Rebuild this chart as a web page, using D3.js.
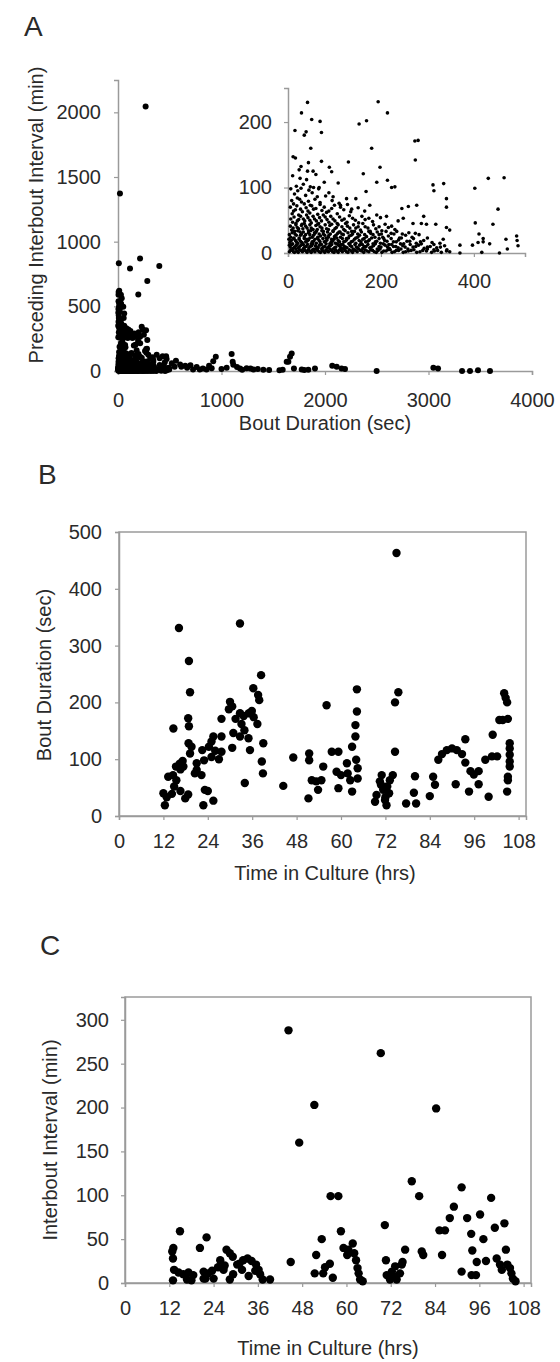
<!DOCTYPE html>
<html>
<head>
<meta charset="utf-8">
<script src="https://cdn.jsdelivr.net/npm/d3@7"></script>
<style>
  html, body { margin: 0; padding: 0; background: #fff; }
  svg text { font-family: 'Liberation Sans', Arial, sans-serif; fill: #2a2a2a; }
</style>
</head>
<body>
<svg id="chart" width="560" height="1362"></svg>
<script>
// ---------------- DATA ----------------
// Panel A: bout duration (sec) vs preceding interbout interval (min)
// points inside the inset window (duration <= 510 s, interval <= 250 min)
const insetSparse = [
  [42,230],[29,214],[51,204],[69,201],[15,187],[39,185],[35,180],[72,184],[194,231],[214,214],
  [169,202],[153,197],[49,160],[180,160],[273,171],[280,172],[11,147],[274,142],[130,139],[44,138],
  [24,127],[42,125],[54,125],[89,131],[94,124],[162,121],[198,131],[26,114],[108,107],[191,108],
  [214,111],[223,100],[230,101],[168,94],[48,101],[55,100],[67,100],[312,104],[314,95],[335,106],
  [402,99],[431,114],[465,115],[341,83],[341,70],[452,67],[441,44],[403,46],[97,86],[126,83],
  [146,83],[113,73],[137,67],[165,64],[176,73],[191,58],[212,56],[245,68],[259,71],[277,73],
  [237,49],[248,53],[292,56],[269,45],[287,45],[298,44],[318,44],[341,39],[348,35],[411,29],
  [420,22],[409,16],[420,17],[434,14],[469,21],[492,26],[493,19],[495,11],[472,6],[455,0],
  [417,1],[397,12],[370,12],[370,0],[334,21],[327,15],[314,5],[298,3],[341,3]
];
const insetDense = [
  [3,2],[9,4],[14,1],[19,3],[25,5],[31,2],[36,4],[41,1],[47,3],[53,5],[58,2],[64,4],[70,1],[76,3],[82,5],
  [87,2],[93,4],[99,1],[105,3],[111,5],[117,2],[123,4],[129,1],[136,3],[142,5],[149,2],[156,4],[163,1],
  [170,3],[178,5],[186,2],[194,4],[202,1],[211,3],[220,5],[229,2],[238,4],[248,1],[259,3],[271,5],[284,2],
  [309,1],[322,4],[348,2],
  [5,9],[11,7],[17,11],[22,8],[28,12],[34,7],[39,10],[45,8],[51,11],[56,6],[62,9],[68,12],[73,7],[79,10],
  [85,8],[91,11],[97,6],[103,9],[109,12],[115,7],[121,10],[127,8],[134,11],[140,6],[147,9],[154,12],[161,7],
  [168,10],[176,8],[184,11],[192,6],[200,9],[209,12],[218,7],[227,10],[237,8],[247,11],[258,6],[269,9],
  [281,12],[293,7],[306,10],[320,8],[337,11],
  [4,16],[10,14],[16,19],[21,15],[27,18],[33,13],[38,17],[44,20],[50,14],[55,18],[61,15],[67,19],[72,13],
  [78,17],[84,20],[90,14],[96,18],[102,15],[108,19],[114,13],[120,17],[126,20],[133,14],[139,18],[146,15],
  [153,19],[160,13],[167,17],[175,20],[183,14],[191,18],[199,15],[208,19],[217,13],[227,17],[238,20],
  [249,14],[262,18],[276,15],[292,19],[310,16],
  [6,24],[12,22],[18,27],[24,23],[29,29],[35,25],[41,21],[47,28],[52,24],[58,30],[64,22],[70,26],[76,29],
  [82,23],[88,27],[94,21],[100,25],[107,30],[113,24],[119,28],[126,22],[132,26],[139,29],[146,23],[154,27],
  [161,21],[169,25],[178,30],[187,24],[196,28],[206,22],[216,26],[228,29],[240,23],[253,27],[267,24],[282,28],
  [8,35],[14,33],[20,39],[26,32],[32,37],[38,41],[44,34],[50,38],[57,31],[63,36],[69,40],[76,33],[83,37],
  [90,42],[97,34],[104,39],[112,32],[120,36],[128,41],[137,33],[146,38],[156,35],[166,40],[177,33],[189,37],
  [202,34],[216,39],[230,36],
  [10,47],[17,45],[23,51],[30,44],[36,49],[43,54],[50,46],[57,52],[64,44],[72,49],[80,55],[88,47],[97,52],
  [106,45],[116,50],[127,47],[139,53],[152,46],[166,51],[182,48],[199,54],
  [9,60],[16,66],[23,58],[31,63],[39,69],[47,61],[55,67],[64,59],[73,65],[83,62],[94,68],[106,60],[120,66],
  [135,63],[151,69],
  [12,75],[20,84],[29,78],[38,88],[48,73],[58,82],[69,77],[81,87],[95,80],[110,76],[14,90],
  [21,95],[33,105],[52,92],[66,98],[78,108],[18,102],
  [10,118],[28,132],[40,112],[60,120],[72,140],[16,145]
];
const insetDense2 = [
  [6,5],[12,2],[17,6],[22,1],[28,4],[33,6],[39,3],[44,5],[50,1],[55,4],[61,6],[67,2],[73,5],[79,1],[85,3],
  [90,6],[96,2],[102,5],[108,1],[114,4],[120,6],[126,2],[132,5],[139,1],[145,4],[152,6],[159,3],[166,5],
  [174,2],[182,4],[190,1],[198,6],[206,3],[215,5],[224,1],[233,4],[243,6],[253,2],[265,4],[277,1],[290,4],
  [300,6],[315,3],[330,1],[342,5],
  [3,12],[8,13],[14,9],[19,13],[25,10],[31,14],[36,9],[42,13],[48,10],[53,14],[59,11],[65,8],[70,13],[76,9],
  [82,14],[88,10],[94,13],[100,8],[106,14],[112,10],[118,13],[124,9],[131,14],[137,10],[144,13],[150,8],
  [157,14],[164,10],[172,13],[180,9],[188,14],[196,10],[205,14],[214,9],[223,13],[232,10],[242,14],[252,9],
  [263,13],[275,10],[287,14],[300,9],[314,13],[328,9],
  [2,21],[7,19],[13,23],[18,17],[24,21],[30,16],[35,22],[41,18],[47,23],[52,17],[58,21],[64,24],[69,17],
  [75,22],[81,18],[87,24],[93,17],[99,21],[105,23],[111,17],[117,22],[123,18],[130,23],[136,17],[143,21],
  [150,24],[157,17],[164,22],[172,18],[180,23],[188,17],[196,22],[204,24],[213,18],[222,22],[233,17],
  [244,23],[256,18],[270,22],[285,17],[300,23],
  [3,28],[9,31],[15,29],[21,34],[27,27],[33,32],[38,28],[44,31],[49,34],[55,27],[61,33],[67,29],[73,34],
  [79,27],[85,32],[91,29],[97,33],[103,27],[110,32],[116,29],[123,34],[129,31],[136,27],[143,33],[150,29],
  [158,32],[165,28],[174,33],[183,28],[192,32],[201,29],[211,33],[222,30],[234,33],[246,29],[260,31],[274,30],
  [5,41],[11,38],[17,43],[23,37],[29,42],[35,45],[41,38],[47,43],[54,36],[60,42],[66,45],[73,38],[80,43],
  [87,36],[94,44],[101,37],[108,43],[116,40],[124,45],[133,38],[141,43],[151,40],[161,45],[172,38],[184,43],
  [196,40],[209,44],[223,41],
  [6,52],[13,55],[20,49],[27,56],[33,52],[40,58],[47,50],[54,56],[61,49],[68,54],[76,58],[84,51],[92,56],
  [101,49],[111,55],[121,52],[132,57],[145,50],[159,56],[174,53],
  [5,70],[12,64],[19,72],[27,67],[35,75],[43,64],[51,72],[60,68],[69,74],[78,70],[88,64],[100,73],[113,70],
  [128,74],[8,80],[25,82],[44,79],[63,86],[88,92],[6,98],[28,99],[45,96]
];
// points outside the inset window (only visible in the main plot)
const mainOnly = [
  [267,2046],[19,1372],[8,834],[116,793],[213,870],[399,811],[283,695],[196,592],[5,590],[36,563],
  [12,523],[51,497],[15,458],[60,444],[10,368],[20,342],[30,303],[229,342],[271,316],[213,265],[283,239],
  [40,280],[70,300],[90,270],[130,260],[160,290],[8,410],[25,395],[45,330],[100,320],[18,480],[30,520],
  [5,540],[55,410],[3,260],[8,300],[12,330],[15,280],[22,270],[28,310],[35,255],[48,265],[55,300],[62,275],
  [75,260],[85,285],[95,255],[110,270],[125,290],[140,255],[150,280],[180,262],[200,300],[240,320],[250,280],
  [5,380],[14,400],[3,450],[10,500],[22,530],[6,610],[12,620],[28,590],[261,154],[293,125],[374,125],[470,93],
  [2,350],[7,430],[4,480],[30,370],[60,350],[80,330],[120,310],[170,270],
  [520,60],[547,33],[560,80],[600,50],[612,33],[650,40],[668,25],[700,45],[725,12],[760,30],[790,12],
  [820,20],[855,12],[880,40],[905,22],[920,75],[945,110],[1000,15],[1050,25],[1098,131],[1108,72],[1114,48],
  [1150,30],[1179,20],[1200,10],[1243,22],[1280,20],[1308,12],[1350,15],[1404,10],[1460,8],[1560,5],[1591,10],
  [1630,72],[1646,72],[1662,110],[1678,136],[1700,20],[1775,12],[1800,8],[1839,10],[1903,20],[2070,40],
  [2113,33],[2160,20],[2193,15],[2499,0],[3047,25],[3092,20],[3324,0],[3401,0],[3478,5],[3594,0]
];
const aYTicks = [0, 500, 1000, 1500, 2000];
const aXTicks = [0, 1000, 2000, 3000, 4000];
const insetYTicks = [0, 100, 200];
const insetXTicks = [0, 200, 400];

// Panel B: time in culture (hrs) vs bout duration (sec)
const boutData = [
  [16.2,331],[32.7,339],[18.9,273],[19.2,218],[18.7,172],[18.9,158],[14.7,154],[38.4,248],[36.3,225],[37.6,213],
  [37.9,204],[30,201],[30.6,193],[29.7,188],[32.7,181],[33.7,176],[31.5,171],[33.1,162],[37.4,162],[36.4,174],
  [27.7,171],[39,128],[35.4,116],[35,137],[30.6,120],[27.7,140],[25.5,140],[25,131],[24.3,122],[22.5,116],
  [26,115],[25,104],[23,98],[21,93],[27,100],[21,81],[22.3,72],[23.2,46],[24,44],[22.8,19],[25.5,27],
  [38.6,96],[38.9,75],[34,58],[27.7,113],[12.4,19],[12,40],[12.9,33],[13.3,69],[14.6,72],[15.5,63],
  [14.9,52],[16.6,44],[14.3,39],[17.4,87],[16.4,92],[15.4,87],[17.2,97],[19.2,110],[19.6,122],[18.8,128],
  [17.9,31],[18.7,38],[16.6,82],[20.5,75],[30.9,146],[32.7,140],[33.9,151],[35.1,181],[35.9,185],
  [44.4,53],[47.1,103],[51.2,31],[51.4,110],[51.4,98],[52.1,63],[53.3,61],[53.8,46],[54.7,63],[55.2,87],
  [56.1,195],[57.5,113],[59.3,113],[58.8,78],[60,72],[59.3,49],[61.6,93],[61.8,75],[62.5,63],[63,43],
  [63,122],[63.9,140],[63.9,160],[64.3,184],[64.3,223],[64.1,99],[64.5,84],[64.5,66],
  [69.2,25],[69.6,37],[70.5,61],[71,72],[71.4,46],[71.9,28],[72.3,19],[73.2,63],[74,72],[72.5,52],[70.8,55],
  [73,40],[72,33],[74.6,113],[74.6,200],[75.5,218],[75,463],
  [77.6,22],[79.7,41],[80,70],[80.3,22],[84,35],[84.9,69],[85.4,55],[86.3,99],[87.3,109],[88.6,116],
  [90,119],[91.3,116],[92.7,109],[93.6,135],[93.6,94],[95,79],[95.9,73],[97.2,79],[91,56],[94.6,43],
  [97.2,56],[99,99],[99.9,34],[100.8,105],[102.2,105],[101,143],[102.8,169],[103.7,169],[104.1,216],
  [104.5,208],[104.9,200],[105.1,171],[105.6,128],[105.6,119],[105.6,108],[105.6,96],[105.6,87],
  [105.1,69],[105.1,63],[104.9,43]
];
const bYTicks = [0, 100, 200, 300, 400, 500];
const timeTicks = [0, 12, 24, 36, 48, 60, 72, 84, 96, 108];

// Panel C: time in culture (hrs) vs interbout interval (min)
const intervalData = [
  [14.9,59],[22.1,52],[20.3,40],[13.1,40],[12.8,36],[13,28],[13.3,15],[13,3],[14.5,12],[15.8,10],[17.2,12],
  [18.5,9],[16.8,4],[18,3],[21.3,13],[22.5,11],[21.8,5],[23.6,14],[24,5],[21.3,5],
  [27.5,38],[28.4,34],[29.2,30],[32,26],[33.2,28],[34.3,25],[35.5,21],[36.2,15],[36.6,10],[37.3,4],[31.7,15],
  [33.5,8],[35.3,14],[30.4,21],[25.8,26],[25.2,18],[26.7,15],[29.3,10],[28.4,4],[31,22],[27,20],
  [39.3,4],[44.3,288],[69.3,262],[51.3,203],[47.2,160],[84.3,199],[44.9,24],[51.8,32],[51.4,11],[53.3,50],
  [53.7,11],[54.2,18],[55.5,22],[55.7,99],[57.8,99],[56.3,6],[58.5,59],[59.2,40],[60.5,38],[60.2,32],
  [61.7,45],[62.1,34],[62.6,26],[63,17],[63.3,11],[63.7,4],[64.4,2],
  [70.4,66],[70.7,26],[70.9,9],[71.8,4],[72.7,8],[73.6,4],[74.5,11],[75,21],[75.2,24],[75.9,38],[73.2,19],
  [72.3,13],[77.7,116],[79.7,99],[80.4,36],[80.8,32],[85.2,60],[86.7,60],[85.9,32],[88,74],[89.1,87],
  [91.2,109],[91.2,13],[92.7,74],[93.8,56],[94.1,37],[93.9,9],[95.1,9],[95.3,24],[96.2,78],[97.1,50],
  [97.8,25],[99.2,97],[100.2,63],[100.7,28],[101.6,21],[102.1,15],[102.8,68],[103.2,38],[103.6,21],
  [104.3,17],[104.7,11],[105.1,5],[105.8,2]
];
const cYTicks = [0, 50, 100, 150, 200, 250, 300];

// ---------------- DRAWING ----------------
const svg = d3.select('#chart');
const AXIS_COLOR = '#9a9a9a';
const FONT = 20;
const fmt = d3.format('d');

function styleAxis(g) {
  g.select('.domain').attr('stroke', AXIS_COLOR).attr('stroke-width', 1.5);
  g.selectAll('.tick line').attr('stroke', AXIS_COLOR).attr('stroke-width', 1.2);
  g.selectAll('.tick text').attr('font-size', FONT).attr('fill', '#2a2a2a')
    .style('font-family', "'Liberation Sans', Arial, sans-serif");
}

function drawAxes(x, y, xTicks, yTicks, opts) {
  const gx = svg.append('g')
    .attr('transform', `translate(0,${y.range()[0]})`)
    .call(d3.axisBottom(x).tickValues(xTicks).tickFormat(fmt).tickSizeOuter(0).tickSize(4).tickPadding(opts.xPad));
  styleAxis(gx);
  const gy = svg.append('g')
    .attr('transform', `translate(${x.range()[0]},0)`)
    .call(d3.axisLeft(y).tickValues(yTicks).tickFormat(fmt).tickSizeOuter(0).tickSize(4).tickPadding(opts.yPad));
  styleAxis(gy);
  if (opts.frame) {
    svg.append('rect')
      .attr('x', x.range()[0]).attr('y', y.range()[1])
      .attr('width', x.range()[1] - x.range()[0])
      .attr('height', y.range()[0] - y.range()[1])
      .attr('fill', 'none').attr('stroke', AXIS_COLOR).attr('stroke-width', 1.5);
  }
}

function drawPoints(data, x, y, r) {
  svg.append('g').selectAll('circle').data(data).join('circle')
    .attr('cx', d => x(d[0])).attr('cy', d => y(d[1])).attr('r', r).attr('fill', '#000');
}

function label(text, xPos, yPos, size, rotate) {
  const t = svg.append('text').text(text).attr('font-size', size);
  if (rotate) {
    t.attr('transform', `translate(${xPos},${yPos}) rotate(-90)`).attr('text-anchor', 'middle').attr('dy', '0.35em');
  } else {
    t.attr('x', xPos).attr('y', yPos);
  }
  return t;
}

// Panel A main
const insetAll = insetDense.concat(insetDense2, insetSparse);
const allA = insetAll.concat(mainOnly);
const xA = d3.scaleLinear().domain([0, 4000]).range([118, 532]);
const yA = d3.scaleLinear().domain([0, 2250]).range([371, 80]);
drawAxes(xA, yA, aXTicks, aYTicks, { xPad: 18, yPad: 13, frame: false });
drawPoints(allA, xA, yA, 3);

// Panel A inset
const xI = d3.scaleLinear().domain([0, 510]).range([288, 525]);
const yI = d3.scaleLinear().domain([0, 252]).range([253, 88]);
drawAxes(xI, yI, insetXTicks, insetYTicks, { xPad: 17, yPad: 12, frame: false });
drawPoints(insetAll, xI, yI, 1.8);

// Panel B
const xB = d3.scaleLinear().domain([0, 110]).range([119, 526]);
const yB = d3.scaleLinear().domain([0, 500]).range([816, 532]);
drawAxes(xB, yB, timeTicks, bYTicks, { xPad: 14, yPad: 13, frame: true });
drawPoints(boutData, xB, yB, 4.2);

// Panel C
const xC = d3.scaleLinear().domain([0, 110]).range([125, 531]);
const yC = d3.scaleLinear().domain([0, 326]).range([1283, 997]);
drawAxes(xC, yC, timeTicks, cYTicks, { xPad: 14, yPad: 12, frame: true });
drawPoints(intervalData, xC, yC, 4.2);

// Panel letters and titles
label('A', 24, 36, 28, false);
label('B', 38, 484, 28, false);
label('C', 40, 955, 28, false);

label('Preceding Interbout Interval (min)', 36, 215, FONT, true);
label('Bout Duration (sec)', 325, 430, FONT, false).attr('text-anchor', 'middle');
label('Bout Duration (sec)', 44, 675, FONT, true);
label('Time in Culture (hrs)', 325, 880, FONT, false).attr('text-anchor', 'middle');
label('Interbout Interval (min)', 50, 1140, FONT, true);
label('Time in Culture (hrs)', 328, 1355, FONT, false).attr('text-anchor', 'middle');
</script>
</body>
</html>
